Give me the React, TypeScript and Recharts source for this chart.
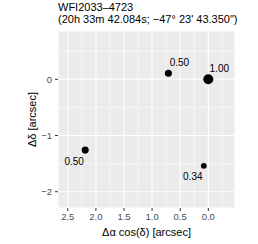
import { ScatterChart, Scatter, XAxis, YAxis, CartesianGrid, ReferenceLine } from 'recharts'

// image offsets (arcsec) and flux ratios of the four lensed images
const DX = [0.0, 0.71, 2.19, 0.08]
const DY = [0.0, 0.107, -1.26, -1.54]
const FLUX = [1.0, 0.5, 0.5, 0.34]

const X_TICKS = [2.5, 2.0, 1.5, 1.0, 0.5, 0.0]
const X_MINOR = [2.25, 1.75, 1.25, 0.75, 0.25, -0.25]
const Y_TICKS = [0, -1, -2]
const Y_MINOR = [0.5, -0.5, -1.5]

const DATA = DX.map((x, i) => ({ x, y: DY[i], w: FLUX[i] }))

const FONT = '"Liberation Sans", Arial, sans-serif'

function Dot(props: any) {
  const { cx, cy, payload } = props
  const r = 5 * Math.sqrt(payload.w)
  // labels go up-right for the upper pair, down-left for the lower pair
  const up = payload.y > -0.5
  const dx = up ? 11 : -11
  const dy = up ? -11 : 11
  return (
    <g>
      <circle cx={cx} cy={cy} r={r} fill="#000" />
      <text x={cx + dx} y={cy + dy} textAnchor="middle" dominantBaseline="central"
        fontSize={10} fontFamily={FONT} fill="#000">{payload.w.toFixed(2)}</text>
    </g>
  )
}

const fmtY = (v: number) => (v < 0 ? '\u2212' + Math.abs(v) : String(v))

export default function App() {
  return (
    <div style={{ position: 'absolute', left: 0, top: 0, width: 258, height: 244, background: '#fff', fontFamily: FONT }}>
      <div style={{ position: 'absolute', left: 58, top: 1, fontSize: 11, lineHeight: '12px', color: '#000', whiteSpace: 'nowrap' }}>
        <div>WFI2033–4723</div>
        <div>(20h 33m 42.084s; −47° 23' 43.350")</div>
      </div>
      <ScatterChart width={258} height={244} margin={{ top: 31, right: 23, bottom: 6, left: 28 }}>
        <CartesianGrid fill="#EBEBEB" stroke="#fff" strokeWidth={1.1} />
        {X_MINOR.map(v => (
          <ReferenceLine key={'x' + v} x={v} stroke="#fff" strokeWidth={0.55} />
        ))}
        {Y_MINOR.map(v => (
          <ReferenceLine key={'y' + v} y={v} stroke="#fff" strokeWidth={0.55} />
        ))}
        <XAxis type="number" dataKey="x" reversed domain={[-0.475, 2.674]} allowDataOverflow
          ticks={X_TICKS} tickFormatter={(v: number) => v.toFixed(1)} height={30}
          axisLine={false} tickSize={3} tickMargin={2} interval={0}
          tickLine={{ stroke: '#333' }} tick={{ fill: '#4D4D4D', fontSize: 9.5, fontFamily: FONT }}
          label={{ value: 'Δα cos(δ) [arcsec]', position: 'insideBottom', offset: 2, fill: '#000', fontSize: 11, fontFamily: FONT }} />
        <YAxis type="number" dataKey="y" domain={[-2.29, 0.86]} allowDataOverflow
          ticks={Y_TICKS} tickFormatter={fmtY} width={30}
          axisLine={false} tickSize={3} tickMargin={3} interval={0}
          tickLine={{ stroke: '#333' }} tick={{ fill: '#4D4D4D', fontSize: 9.5, fontFamily: FONT }}
          label={{ value: 'Δδ [arcsec]', angle: -90, position: 'insideLeft', offset: 4, fill: '#000', fontSize: 11, fontFamily: FONT, style: { textAnchor: 'middle' } }} />
        <Scatter data={DATA} shape={<Dot />} isAnimationActive={false} />
      </ScatterChart>
    </div>
  )
}
